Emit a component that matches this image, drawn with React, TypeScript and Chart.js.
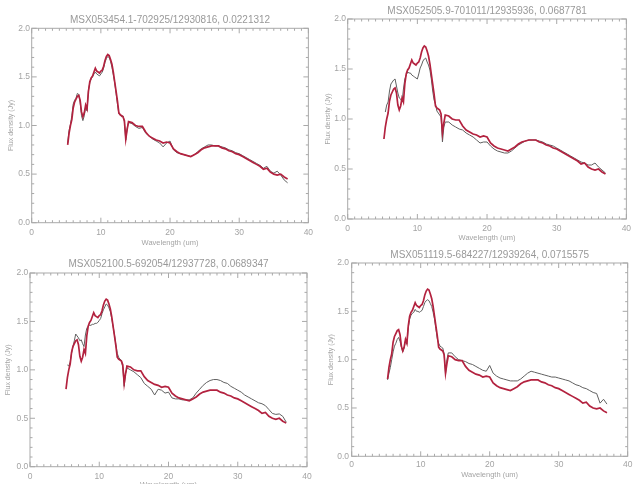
import React, { useEffect, useRef } from "react";
import { Chart, registerables } from "chart.js";

Chart.register(...registerables);

// ---------- data ----------
const WAVELENGTH = [
  5.2, 5.4, 5.6, 5.8, 6.0, 6.2, 6.4, 6.6, 6.8, 7.0, 7.2, 7.4, 7.6, 7.8, 8.0,
  8.2, 8.4, 8.6, 8.8, 9.0, 9.2, 9.4, 9.6, 9.8, 10.0, 10.2, 10.4, 10.6, 10.8,
  11.0, 11.2, 11.4, 11.6, 11.8, 12.0, 12.2, 12.4, 12.6, 12.8, 13.0, 13.2, 13.4,
  13.6, 13.8, 14.0, 14.5, 15.0, 15.5, 16.0, 16.5, 17.0, 17.5, 18.0, 18.5, 19.0,
  19.5, 20.0, 20.5, 21.0, 21.5, 22.0, 22.5, 23.0, 23.5, 24.0, 24.5, 25.0, 25.5,
  26.0, 26.5, 27.0, 27.5, 28.0, 28.5, 29.0, 29.5, 30.0, 30.5, 31.0, 31.5, 32.0,
  32.5, 33.0, 33.5, 34.0, 34.5, 35.0, 35.5, 36.0, 36.5, 37.0,
];

// red model spectrum (same in every panel)
const MODEL = [
  0.80, 0.92, 1.00, 1.06, 1.18, 1.24, 1.27, 1.30, 1.31, 1.26, 1.14, 1.09, 1.13, 1.21, 1.17,
  1.35, 1.45, 1.49, 1.51, 1.55, 1.59, 1.56, 1.55, 1.54, 1.56, 1.57, 1.61, 1.67, 1.71,
  1.73, 1.72, 1.68, 1.63, 1.55, 1.45, 1.35, 1.25, 1.13, 1.11, 1.10, 1.09, 1.05,
  0.86, 0.96, 1.04, 1.03, 1.00, 0.99, 0.99, 0.93, 0.89, 0.87, 0.85, 0.84, 0.82,
  0.83, 0.82, 0.76, 0.73, 0.71, 0.70, 0.69, 0.68, 0.70, 0.72, 0.75, 0.77, 0.78,
  0.79, 0.79, 0.79, 0.77, 0.76, 0.74, 0.73, 0.71, 0.70, 0.68, 0.66, 0.64, 0.62,
  0.60, 0.58, 0.55, 0.56, 0.52, 0.50, 0.49, 0.50, 0.47, 0.45,
];

// observed spectra (grey), one per panel
const OBS_1 = [
  0.82, 0.95, 1.01, 1.10, 1.22, 1.26, 1.28, 1.33, 1.32, 1.24, 1.10, 1.05, 1.10, 1.19, 1.15,
  1.36, 1.44, 1.48, 1.50, 1.53, 1.55, 1.53, 1.52, 1.51, 1.53, 1.55, 1.59, 1.65, 1.69,
  1.71, 1.70, 1.66, 1.60, 1.52, 1.44, 1.33, 1.22, 1.12, 1.11, 1.09, 1.10, 1.04,
  0.85, 0.97, 1.03, 1.02, 0.99, 0.97, 0.98, 0.92, 0.89, 0.86, 0.84, 0.82, 0.78,
  0.82, 0.84, 0.75, 0.72, 0.71, 0.70, 0.69, 0.68, 0.70, 0.73, 0.76, 0.78, 0.80,
  0.80, 0.79, 0.79, 0.78, 0.77, 0.75, 0.74, 0.72, 0.71, 0.69, 0.67, 0.65, 0.63,
  0.61, 0.59, 0.56, 0.58, 0.53, 0.51, 0.53, 0.49, 0.44, 0.41,
];

const OBS_2 = [
  null, 1.07, 1.14, 1.17, 1.28, 1.35, 1.37, 1.39, 1.40, 1.33, 1.26, 1.21, 1.20, 1.17, 1.30,
  1.40, 1.44, 1.47, 1.46, 1.46, 1.44, 1.43, 1.42, 1.41, 1.40, 1.45, 1.51, 1.54, 1.58,
  1.60, 1.61, 1.57, 1.54, 1.49, 1.40, 1.28, 1.19, 1.15, 1.08, 1.06, 1.04, 1.02,
  0.77, 0.92, 0.97, 0.97, 0.94, 0.92, 0.90, 0.89, 0.86, 0.84, 0.82, 0.79, 0.76,
  0.77, 0.77, 0.73, 0.70, 0.68, 0.67, 0.66, 0.66, 0.68, 0.71, 0.74, 0.76, 0.78,
  0.79, 0.79, 0.79, 0.78, 0.77, 0.75, 0.74, 0.73, 0.71, 0.69, 0.67, 0.65, 0.63,
  0.61, 0.59, 0.57, 0.56, 0.54, 0.54, 0.56, 0.52, 0.49, 0.46,
];

const OBS_3 = [
  null, 1.05, 1.04, 1.08, 1.17, 1.24, 1.30, 1.37, 1.35, 1.33, 1.30, 1.31, 1.27, 1.24, 1.36,
  1.43, 1.45, 1.46, 1.46, 1.47, 1.47, 1.48, 1.48, 1.49, 1.51, 1.53, 1.58, 1.62, 1.65,
  1.68, 1.67, 1.64, 1.60, 1.53, 1.45, 1.36, 1.26, 1.17, 1.13, 1.11, 1.10, 1.02,
  0.83, 0.96, 1.02, 1.00, 0.98, 0.95, 0.92, 0.86, 0.83, 0.80, 0.74, 0.80, 0.79,
  0.76, 0.77, 0.71, 0.70, 0.70, 0.69, 0.69, 0.69, 0.71, 0.76, 0.80, 0.84, 0.87,
  0.89, 0.90, 0.90, 0.89, 0.87, 0.86, 0.83, 0.81, 0.79, 0.77, 0.74, 0.72, 0.70,
  0.68, 0.66, 0.65, 0.63, 0.59, 0.55, 0.54, 0.545, 0.52, 0.46,
];

const OBS_4 = [
  0.79, 0.86, 0.92, 1.00, 1.08, 1.14, 1.17, 1.21, 1.23, 1.19, 1.13, 1.08, 1.12, 1.20, 1.16,
  1.33, 1.42, 1.46, 1.48, 1.49, 1.52, 1.50, 1.50, 1.49, 1.50, 1.51, 1.55, 1.59, 1.61,
  1.62, 1.61, 1.58, 1.55, 1.49, 1.42, 1.32, 1.22, 1.17, 1.14, 1.13, 1.12, 1.06,
  0.85, 1.00, 1.07, 1.07, 1.03, 1.00, 0.99, 0.98, 0.96, 0.95, 0.93, 0.91, 0.89,
  0.88, 0.94, 0.86, 0.83, 0.81, 0.80, 0.79, 0.78, 0.78, 0.78, 0.80, 0.83, 0.86,
  0.88, 0.87, 0.86, 0.85, 0.84, 0.83, 0.82, 0.82, 0.81, 0.80, 0.79, 0.78, 0.76,
  0.74, 0.73, 0.71, 0.70, 0.68, 0.66, 0.65, 0.55, 0.59, 0.54,
];

const TITLES = [
  "MSX053454.1-702925/12930816, 0.0221312",
  "MSX052505.9-701011/12935936, 0.0687781",
  "MSX052100.5-692054/12937728, 0.0689347",
  "MSX051119.5-684227/12939264, 0.0715575",
];
const OBSERVED = [OBS_1, OBS_2, OBS_3, OBS_4];

const X_LABEL = "Wavelength (um)";
const Y_LABEL = "Flux density (Jy)";
const X_MIN = 0, X_MAX = 40, X_STEP = 10, X_MINOR = 1;
const Y_MIN = 0, Y_MAX = 2, Y_STEP = 0.5, Y_MINOR = 0.1;

// ---------- layout / style ----------
const FONT = '"Liberation Sans", Arial, sans-serif';
const TEXT_COLOR = "#a4a4a4";
const TITLE_COLOR = "#999999";
const FRAME_COLOR = "#a9a9a9";
const RED = "#b3223f";
const GREY = "#606060";

const LAYOUT = [
  { left: 0, top: 0, width: 318, height: 250, l: 31.7, t: 28.3, r: 310.7, b: 222.7, titleC: 20, xTickC: 232.7, xTitleC: 242.7, yLabR: 30, yTitleC: 11 },
  { left: 318, top: 0, width: 318, height: 250, l: 29.7, t: 19, r: 312, b: 219, titleC: 11, xTickC: 229, xTitleC: 237.5, yLabR: 28, yTitleC: 9.7 },
  { left: 0, top: 246, width: 318, height: 250, l: 30, t: 27, r: 307, b: 220.7, titleC: 18, xTickC: 231, xTitleC: 239, yLabR: 28.3, yTitleC: 8.3 },
  { left: 318, top: 246, width: 318, height: 250, l: 33.7, t: 17, r: 310.3, b: 210.3, titleC: 9, xTickC: 219, xTitleC: 228.7, yLabR: 31, yTitleC: 13 },
];

const idlFrame = {
  id: "idlFrame",
  beforeDatasetsDraw(chart: any) {
    const { ctx, chartArea: a, scales } = chart;
    const x = scales.x, y = scales.y;
    ctx.save();
    ctx.strokeStyle = FRAME_COLOR;
    ctx.lineWidth = 1;
    ctx.strokeRect(a.left, a.top, a.right - a.left, a.bottom - a.top);
    ctx.beginPath();
    const nx = Math.round((X_MAX - X_MIN) / X_MINOR);
    for (let i = 0; i <= nx; i++) {
      const v = X_MIN + i * X_MINOR;
      const px = x.getPixelForValue(v);
      const len = Math.abs(v % X_STEP) < 1e-6 ? 5 : 2.5;
      ctx.moveTo(px, a.bottom); ctx.lineTo(px, a.bottom - len);
      ctx.moveTo(px, a.top); ctx.lineTo(px, a.top + len);
    }
    const ny = Math.round((Y_MAX - Y_MIN) / Y_MINOR);
    for (let i = 0; i <= ny; i++) {
      const v = Y_MIN + i * Y_MINOR;
      const py = y.getPixelForValue(v);
      const len = i % Math.round(Y_STEP / Y_MINOR) === 0 ? 5 : 2.5;
      ctx.moveTo(a.left, py); ctx.lineTo(a.left + len, py);
      ctx.moveTo(a.right, py); ctx.lineTo(a.right - len, py);
    }
    ctx.stroke();
    ctx.restore();
  },
};

function Panel({ idx }: { idx: number }) {
  const ref = useRef<HTMLCanvasElement | null>(null);
  const L = LAYOUT[idx];
  useEffect(() => {
    const canvas = ref.current;
    if (!canvas) return;
    const toPts = (vals: (number | null)[]) =>
      WAVELENGTH.map((w, i) => ({ x: w, y: vals[i] }));
    const tickSize = 8.5;
    const chart = new Chart(canvas, {
      type: "line",
      data: {
        datasets: [
          { data: toPts(MODEL) as any, borderColor: RED, borderWidth: 1.7, pointRadius: 0, tension: 0 },
          { data: toPts(OBSERVED[idx]) as any, borderColor: GREY, borderWidth: 1, pointRadius: 0, tension: 0 },
        ],
      },
      options: {
        animation: false,
        responsive: false,
        devicePixelRatio: 1,
        layout: { padding: { left: 0, top: 0, bottom: 0, right: L.width - L.r } },
        plugins: {
          legend: { display: false },
          tooltip: { enabled: false },
          title: {
            display: true,
            text: TITLES[idx],
            fullSize: false,
            color: TITLE_COLOR,
            font: { family: FONT, size: 10, weight: "normal", lineHeight: 1.2 },
            padding: { top: L.titleC - 6, bottom: L.t - L.titleC - 6 },
          },
        },
        scales: {
          x: {
            type: "linear",
            min: X_MIN,
            max: X_MAX,
            grid: { display: false, drawTicks: false },
            border: { display: false },
            ticks: {
              stepSize: X_STEP,
              color: TEXT_COLOR,
              font: { family: FONT, size: tickSize, lineHeight: 1.2 },
              padding: L.xTickC - L.b - tickSize * 0.6,
              maxRotation: 0,
              autoSkip: false,
            },
            title: {
              display: true,
              text: X_LABEL,
              color: TEXT_COLOR,
              font: { family: FONT, size: 7.5, lineHeight: 1.2 },
              padding: { top: 0, bottom: L.height - L.xTitleC - 4.5 },
            },
            afterFit: (s: any) => { s.height = L.height - L.b; },
          },
          y: {
            type: "linear",
            min: Y_MIN,
            max: Y_MAX,
            grid: { display: false, drawTicks: false },
            border: { display: false },
            ticks: {
              stepSize: Y_STEP,
              color: TEXT_COLOR,
              font: { family: FONT, size: tickSize, lineHeight: 1.2 },
              padding: L.l - L.yLabR,
              callback: (v: any) => Number(v).toFixed(1),
            },
            title: {
              display: true,
              text: Y_LABEL,
              color: TEXT_COLOR,
              font: { family: FONT, size: 7, lineHeight: 1.2 },
              padding: { top: L.yTitleC - 4.2, bottom: 0 },
            },
            afterFit: (s: any) => { s.width = L.l; },
          },
        },
      },
      plugins: [idlFrame],
    });
    return () => chart.destroy();
  }, [idx]);
  return (
    <canvas
      ref={ref}
      width={L.width}
      height={L.height}
      style={{ position: "absolute", left: L.left, top: L.top, width: L.width, height: L.height }}
    />
  );
}

export default function App() {
  return (
    <div
      style={{
        position: "fixed",
        left: 0,
        top: 0,
        width: 636,
        height: 484,
        overflow: "hidden",
        background: "#ffffff",
      }}
    >
      {[0, 1, 2, 3].map((i) => (
        <Panel key={i} idx={i} />
      ))}
    </div>
  );
}
